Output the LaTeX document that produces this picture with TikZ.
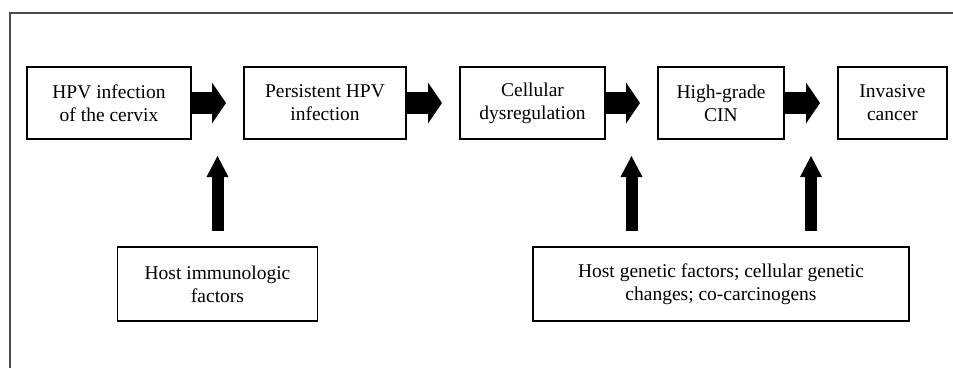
\documentclass[tikz,border=0pt]{standalone}
\usepackage{fontspec}
\setmainfont{Liberation Serif}
\usetikzlibrary{arrows.meta, positioning}
\tikzstyle{stage} = [rectangle, minimum height=72pt, align=center, draw=black, line width=1.6pt, outer sep=0pt, inner sep=2pt, font=\fontsize{19.5pt}{23pt}\selectfont]
\tikzstyle{factor} = [stage, minimum height=74pt]
\tikzstyle{bigarrow} = [line width=22pt, -{Triangle[width=41pt, length=14pt, line width=0pt]}, shorten >=18pt]
\tikzstyle{uparrow} = [line width=12pt, -{Triangle[width=22pt, length=21pt, line width=0pt]}, shorten <=16pt, shorten >=53pt]
\tikzstyle{frame} = [line width=1.6pt, draw=black!70]

\begin{document}
\begin{tikzpicture}[x=1pt, y=1pt]
      \useasboundingbox (0,0) rectangle (953,-368);
      \draw [frame] (10,-368) |- (953,-13);

      \node (hpv) [stage, minimum width=164pt] at (109,-103) {HPV infection\\of the cervix};
      \node (persist) [stage, minimum width=162pt, right=53pt of hpv] {Persistent HPV\\infection};
      \node (dysreg) [stage, minimum width=145pt, right=54pt of persist] {Cellular\\dysregulation};
      \node (cin) [stage, minimum width=126pt, right=53pt of dysreg] {High-grade\\CIN};
      \node (cancer) [stage, minimum width=109pt, right=54pt of cin] {Invasive\\cancer};

      \draw [bigarrow] (hpv) -- coordinate (g1) (persist);
      \draw [bigarrow] (persist) -- coordinate (g2) (dysreg);
      \draw [bigarrow] (dysreg) -- coordinate (g3) (cin);
      \draw [bigarrow] (cin) -- coordinate (g4) (cancer);

      \node (host) [factor, minimum width=200pt, below=144pt of g1] {Host immunologic\\factors};
      \node (genetic) [factor, minimum width=376pt, below=108pt of cin] {Host genetic factors; cellular genetic\\changes; co-carcinogens};

      \draw [uparrow] (host) -- (g1);
      \draw [uparrow] (genetic.north -| g3) -- (g3);
      \draw [uparrow] (genetic.north -| g4) -- (g4);
    \end{tikzpicture}
\end{document}
